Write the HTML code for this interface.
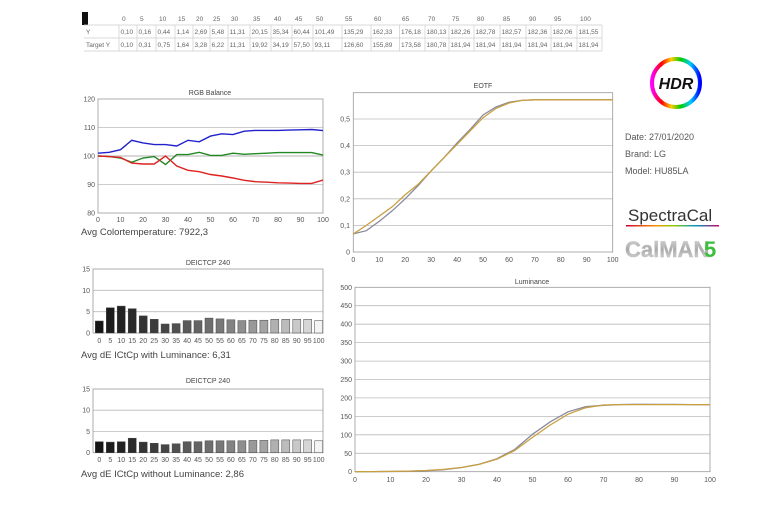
<!DOCTYPE html>
<html><head><meta charset="utf-8"><style>
html,body{margin:0;padding:0;background:#fff;}
svg{display:block;font-family:"Liberation Sans",sans-serif;}
.t{font-size:6.5px;fill:#666;}
.tk{font-size:7px;fill:#555;}
.ttl{font-size:7px;fill:#444;}
.big{font-size:9.5px;fill:#444;}
.g{stroke:#bbb;stroke-width:0.8;}
.ax{stroke:#999;stroke-width:0.8;fill:none;}
.bar{stroke:#444;stroke-width:0.5;}
</style></head><body>
<svg width="770" height="512" viewBox="0 0 770 512" xmlns="http://www.w3.org/2000/svg">
<defs>
<linearGradient id="rb" x1="0" x2="1" y1="0" y2="0">
<stop offset="0" stop-color="#f0f"/><stop offset="0.2" stop-color="#f00"/><stop offset="0.4" stop-color="#fc0"/><stop offset="0.6" stop-color="#0c0"/><stop offset="0.8" stop-color="#0cf"/><stop offset="1" stop-color="#00f"/>
</linearGradient>
<linearGradient id="rbl" x1="0" x2="1"><stop offset="0" stop-color="#c03"/><stop offset="0.3" stop-color="#f80"/><stop offset="0.5" stop-color="#9c0"/><stop offset="0.75" stop-color="#09c"/><stop offset="1" stop-color="#c06"/></linearGradient>
<linearGradient id="cal" x1="0" y1="0" x2="0" y2="1"><stop offset="0" stop-color="#ddd"/><stop offset="0.5" stop-color="#aaa"/><stop offset="1" stop-color="#e0e0e0"/></linearGradient>
</defs>

<!-- table -->
<rect x="82" y="12" width="6" height="13" fill="#111"/>
<g class="t">
<text x="122" y="21">0</text><text x="140" y="21">5</text><text x="159" y="21">10</text><text x="178" y="21">15</text><text x="196" y="21">20</text><text x="213" y="21">25</text><text x="231" y="21">30</text><text x="253" y="21">35</text><text x="274" y="21">40</text><text x="295" y="21">45</text><text x="316" y="21">50</text><text x="345" y="21">55</text><text x="374" y="21">60</text><text x="402" y="21">65</text><text x="428" y="21">70</text><text x="452" y="21">75</text><text x="477" y="21">80</text><text x="503" y="21">85</text><text x="529" y="21">90</text><text x="554" y="21">95</text><text x="580" y="21">100</text>
<text x="86" y="34">Y</text>
<text x="120.5" y="34">0,10</text><text x="138.5" y="34">0,16</text><text x="157.5" y="34">0,44</text><text x="176.5" y="34">1,14</text><text x="194.5" y="34">2,69</text><text x="211.5" y="34">5,48</text><text x="229.5" y="34">11,31</text><text x="251.5" y="34">20,15</text><text x="272.5" y="34">35,34</text><text x="293.5" y="34">60,44</text><text x="314.5" y="34">101,49</text><text x="343.5" y="34">135,29</text><text x="372.5" y="34">162,33</text><text x="401" y="34">176,18</text><text x="426.5" y="34">180,13</text><text x="450.5" y="34">182,26</text><text x="475.5" y="34">182,78</text><text x="501.5" y="34">182,57</text><text x="527.5" y="34">182,36</text><text x="552.5" y="34">182,06</text><text x="578.5" y="34">181,55</text>
<text x="86" y="47">Target Y</text>
<text x="120.5" y="47">0,10</text><text x="138.5" y="47">0,31</text><text x="157.5" y="47">0,75</text><text x="176.5" y="47">1,64</text><text x="194.5" y="47">3,28</text><text x="211.5" y="47">6,22</text><text x="229.5" y="47">11,31</text><text x="251.5" y="47">19,92</text><text x="272.5" y="47">34,19</text><text x="293.5" y="47">57,50</text><text x="314.5" y="47">93,11</text><text x="343.5" y="47">126,60</text><text x="372.5" y="47">155,89</text><text x="401" y="47">173,58</text><text x="426.5" y="47">180,78</text><text x="450.5" y="47">181,94</text><text x="475.5" y="47">181,94</text><text x="501.5" y="47">181,94</text><text x="527.5" y="47">181,94</text><text x="552.5" y="47">181,94</text><text x="578.5" y="47">181,94</text>
</g>
<g stroke="#ccc" stroke-width="0.7">
<line x1="84" y1="25" x2="602" y2="25"/><line x1="84" y1="38" x2="602" y2="38"/><line x1="84" y1="51" x2="602" y2="51"/>
<path d="M119 25V51M137 25V51M156 25V51M175 25V51M193 25V51M210 25V51M228 25V51M250 25V51M271 25V51M292 25V51M313 25V51M342 25V51M371 25V51M399.5 25V51M425 25V51M449 25V51M474 25V51M500 25V51M526 25V51M551 25V51M577 25V51M602 25V51"/>
</g>

<!-- RGB Balance -->
<text class="ttl" x="210" y="95" text-anchor="middle">RGB Balance</text>
<line class="g" x1="98" y1="127.5" x2="323" y2="127.5"/>
<line x1="98" y1="156" x2="323" y2="156" stroke="#ccc" stroke-width="1.6"/>
<line class="g" x1="98" y1="184.5" x2="323" y2="184.5"/>
<rect class="ax" x="98" y="99" width="225" height="114"/>
<g class="tk" text-anchor="end"><text x="95" y="101.5">120</text><text x="95" y="130">110</text><text x="95" y="158.5">100</text><text x="95" y="187">90</text><text x="95" y="215.5">80</text></g>
<g class="tk" text-anchor="middle"><text x="98" y="222">0</text><text x="120.5" y="222">10</text><text x="143" y="222">20</text><text x="165.5" y="222">30</text><text x="188" y="222">40</text><text x="210.5" y="222">50</text><text x="233" y="222">60</text><text x="255.5" y="222">70</text><text x="278" y="222">80</text><text x="300.5" y="222">90</text><text x="323" y="222">100</text></g>
<polyline fill="none" stroke="#2222cc" stroke-width="1.4" points="98,153.2 109.25,152.3 120.5,149.7 131.75,140.3 143,142.9 154.25,144.6 165.5,144.6 176.75,146 188,140.3 199.25,141.8 210.5,136.1 221.75,133.8 233,134.6 244.25,131.2 255.5,130.4 266.75,130.4 278,130.4 289.25,130.1 300.5,129.8 311.75,129.5 323,130.6"/>
<polyline fill="none" stroke="#228822" stroke-width="1.4" points="98,156 109.25,156.6 120.5,158 131.75,162.3 143,158 154.25,156.6 165.5,164.5 176.75,154.6 188,154.6 199.25,152.3 210.5,155.4 221.75,155.4 233,153.2 244.25,154.3 255.5,153.7 266.75,153.2 278,152.6 289.25,152.6 300.5,152.6 311.75,152.6 323,155.1"/>
<polyline fill="none" stroke="#dd2222" stroke-width="1.4" points="98,156 109.25,156.6 120.5,157.4 131.75,163.1 143,164 154.25,164 165.5,156 176.75,166 188,170.3 199.25,171.7 210.5,174.5 221.75,176 233,178 244.25,180.3 255.5,181.7 266.75,182.2 278,182.8 289.25,183.1 300.5,183.4 311.75,183.4 323,180.1"/>
<text class="big" x="81" y="235">Avg Colortemperature: 7922,3</text>

<!-- DE chart 1 -->
<text class="ttl" x="208" y="265" text-anchor="middle">DEICTCP 240</text>
<line class="g" x1="93" y1="290.3" x2="323" y2="290.3"/><line class="g" x1="93" y1="311.7" x2="323" y2="311.7"/>
<rect class="ax" x="93" y="269" width="230" height="64"/>
<g class="tk" text-anchor="end"><text x="90" y="271.5">15</text><text x="90" y="293">10</text><text x="90" y="314">5</text><text x="90" y="335.5">0</text></g>
<g class="bar">
<rect x="95.3" y="321" width="8" height="12" fill="#151515"/><rect x="106.3" y="307.8" width="8" height="25.2" fill="#1c1c1c"/><rect x="117.2" y="306.1" width="8" height="26.9" fill="#222"/><rect x="128.2" y="308.7" width="8" height="24.3" fill="#2a2a2a"/><rect x="139.2" y="315.9" width="8" height="17.1" fill="#333"/><rect x="150.2" y="319.3" width="8" height="13.7" fill="#3c3c3c"/><rect x="161.1" y="324" width="8" height="9" fill="#464646"/><rect x="172.1" y="323.6" width="8" height="9.4" fill="#505050"/><rect x="183.1" y="320.6" width="8" height="12.4" fill="#5a5a5a"/><rect x="194" y="320.6" width="8" height="12.4" fill="#646464"/><rect x="205" y="318.1" width="8" height="14.9" fill="#6e6e6e"/><rect x="216" y="318.9" width="8" height="14.1" fill="#787878"/><rect x="226.9" y="319.8" width="8" height="13.2" fill="#838383"/><rect x="237.9" y="320.6" width="8" height="12.4" fill="#8e8e8e"/><rect x="248.9" y="320.2" width="8" height="12.8" fill="#999"/><rect x="259.9" y="320.2" width="8" height="12.8" fill="#a4a4a4"/><rect x="270.8" y="319.3" width="8" height="13.7" fill="#b0b0b0"/><rect x="281.8" y="319.3" width="8" height="13.7" fill="#bcbcbc"/><rect x="292.8" y="319.3" width="8" height="13.7" fill="#c8c8c8"/><rect x="303.7" y="319.3" width="8" height="13.7" fill="#d6d6d6"/><rect x="314.7" y="320.6" width="8" height="12.4" fill="#f4f4f4"/>
</g>
<g class="tk" text-anchor="middle"><text x="99.3" y="343">0</text><text x="110.3" y="343">5</text><text x="121.2" y="343">10</text><text x="132.2" y="343">15</text><text x="143.2" y="343">20</text><text x="154.2" y="343">25</text><text x="165.1" y="343">30</text><text x="176.1" y="343">35</text><text x="187.1" y="343">40</text><text x="198" y="343">45</text><text x="209" y="343">50</text><text x="220" y="343">55</text><text x="230.9" y="343">60</text><text x="241.9" y="343">65</text><text x="252.9" y="343">70</text><text x="263.9" y="343">75</text><text x="274.8" y="343">80</text><text x="285.8" y="343">85</text><text x="296.8" y="343">90</text><text x="307.7" y="343">95</text><text x="318.7" y="343">100</text></g>
<text class="big" x="81" y="358">Avg dE ICtCp with Luminance: 6,31</text>

<!-- DE chart 2 -->
<text class="ttl" x="208" y="383" text-anchor="middle">DEICTCP 240</text>
<line class="g" x1="93" y1="410.2" x2="323" y2="410.2"/><line class="g" x1="93" y1="431.5" x2="323" y2="431.5"/>
<rect class="ax" x="93" y="389" width="230" height="63.7"/>
<g class="tk" text-anchor="end"><text x="90" y="391.5">15</text><text x="90" y="412.7">10</text><text x="90" y="434">5</text><text x="90" y="455.2">0</text></g>
<g class="bar">
<rect x="95.3" y="441.7" width="8" height="11" fill="#151515"/><rect x="106.3" y="442.1" width="8" height="10.6" fill="#1c1c1c"/><rect x="117.2" y="441.7" width="8" height="11" fill="#222"/><rect x="128.2" y="438.2" width="8" height="14.5" fill="#2a2a2a"/><rect x="139.2" y="442.1" width="8" height="10.6" fill="#333"/><rect x="150.2" y="443.3" width="8" height="9.4" fill="#3c3c3c"/><rect x="161.1" y="444.6" width="8" height="8.1" fill="#464646"/><rect x="172.1" y="443.8" width="8" height="8.9" fill="#505050"/><rect x="183.1" y="441.7" width="8" height="11" fill="#5a5a5a"/><rect x="194" y="441.7" width="8" height="11" fill="#646464"/><rect x="205" y="440.8" width="8" height="11.9" fill="#6e6e6e"/><rect x="216" y="440.8" width="8" height="11.9" fill="#787878"/><rect x="226.9" y="440.8" width="8" height="11.9" fill="#838383"/><rect x="237.9" y="440.8" width="8" height="11.9" fill="#8e8e8e"/><rect x="248.9" y="440.4" width="8" height="12.3" fill="#999"/><rect x="259.9" y="440.4" width="8" height="12.3" fill="#a4a4a4"/><rect x="270.8" y="439.9" width="8" height="12.8" fill="#b0b0b0"/><rect x="281.8" y="439.9" width="8" height="12.8" fill="#bcbcbc"/><rect x="292.8" y="439.9" width="8" height="12.8" fill="#c8c8c8"/><rect x="303.7" y="439.9" width="8" height="12.8" fill="#d6d6d6"/><rect x="314.7" y="440.8" width="8" height="11.9" fill="#f4f4f4"/>
</g>
<g class="tk" text-anchor="middle"><text x="99.3" y="462">0</text><text x="110.3" y="462">5</text><text x="121.2" y="462">10</text><text x="132.2" y="462">15</text><text x="143.2" y="462">20</text><text x="154.2" y="462">25</text><text x="165.1" y="462">30</text><text x="176.1" y="462">35</text><text x="187.1" y="462">40</text><text x="198" y="462">45</text><text x="209" y="462">50</text><text x="220" y="462">55</text><text x="230.9" y="462">60</text><text x="241.9" y="462">65</text><text x="252.9" y="462">70</text><text x="263.9" y="462">75</text><text x="274.8" y="462">80</text><text x="285.8" y="462">85</text><text x="296.8" y="462">90</text><text x="307.7" y="462">95</text><text x="318.7" y="462">100</text></g>
<text class="big" x="81" y="477">Avg dE ICtCp without Luminance: 2,86</text>

<!-- EOTF -->
<text class="ttl" x="483" y="88" text-anchor="middle">EOTF</text>
<g class="g"><line x1="353.3" y1="225.4" x2="612.7" y2="225.4"/><line x1="353.3" y1="198.8" x2="612.7" y2="198.8"/><line x1="353.3" y1="172.2" x2="612.7" y2="172.2"/><line x1="353.3" y1="145.6" x2="612.7" y2="145.6"/><line x1="353.3" y1="119" x2="612.7" y2="119"/></g>
<rect class="ax" x="353.3" y="92.7" width="259.4" height="159.3"/>
<g class="tk" text-anchor="end"><text x="350" y="254.5">0</text><text x="350" y="228">0,1</text><text x="350" y="201.3">0,2</text><text x="350" y="174.7">0,3</text><text x="350" y="148">0,4</text><text x="350" y="121.5">0,5</text></g>
<g class="tk" text-anchor="middle"><text x="353.3" y="262">0</text><text x="379.2" y="262">10</text><text x="405.2" y="262">20</text><text x="431.1" y="262">30</text><text x="457.1" y="262">40</text><text x="483" y="262">50</text><text x="509" y="262">60</text><text x="534.9" y="262">70</text><text x="560.8" y="262">80</text><text x="586.8" y="262">90</text><text x="612.7" y="262">100</text></g>
<polyline fill="none" stroke="#8a8a9e" stroke-width="1.3" points="353.3,233.9 366.3,230.7 379.2,221.4 392.2,210.8 405.2,198.8 418.2,185.5 431.1,170.9 444.1,157.6 457.1,142.9 470,129.6 483,115 496,107 509,102.2 521.9,100.4 534.9,99.8 612.7,99.8"/>
<polyline fill="none" stroke="#c9a040" stroke-width="1.3" points="353.3,233.9 366.3,225.4 379.2,216.1 392.2,206.8 405.2,194.8 418.2,184.2 431.1,170.9 444.1,157.6 457.1,144.3 470,131 483,117.7 496,108.4 509,103 521.9,100.4 534.9,99.8 612.7,99.8"/>

<!-- Luminance -->
<text class="ttl" x="532" y="284" text-anchor="middle">Luminance</text>
<g class="g"><line x1="355" y1="305.7" x2="710" y2="305.7"/><line x1="355" y1="324.2" x2="710" y2="324.2"/><line x1="355" y1="342.6" x2="710" y2="342.6"/><line x1="355" y1="361.1" x2="710" y2="361.1"/><line x1="355" y1="379.5" x2="710" y2="379.5"/><line x1="355" y1="397.9" x2="710" y2="397.9"/><line x1="355" y1="416.4" x2="710" y2="416.4"/><line x1="355" y1="434.8" x2="710" y2="434.8"/><line x1="355" y1="453.3" x2="710" y2="453.3"/></g>
<rect class="ax" x="355" y="287.3" width="355" height="184.4"/>
<g class="tk" text-anchor="end"><text x="352" y="289.8">500</text><text x="352" y="308.2">450</text><text x="352" y="326.7">400</text><text x="352" y="345.1">350</text><text x="352" y="363.6">300</text><text x="352" y="382">250</text><text x="352" y="400.4">200</text><text x="352" y="418.9">150</text><text x="352" y="437.3">100</text><text x="352" y="455.8">50</text><text x="352" y="474.2">0</text></g>
<g class="tk" text-anchor="middle"><text x="355" y="482">0</text><text x="390.5" y="482">10</text><text x="426" y="482">20</text><text x="461.5" y="482">30</text><text x="497" y="482">40</text><text x="532.5" y="482">50</text><text x="568" y="482">60</text><text x="603.5" y="482">70</text><text x="639" y="482">80</text><text x="674.5" y="482">90</text><text x="710" y="482">100</text></g>
<polyline fill="none" stroke="#8a8a9e" stroke-width="1.3" points="355,471.7 372.75,471.6 390.5,471.5 408.25,471.3 426,470.7 443.75,469.7 461.5,467.5 479.25,464.3 497,458.7 514.75,449.4 532.5,434.3 550.25,421.8 568,411.8 585.75,406.7 603.5,405.3 621.25,404.5 639,404.3 656.75,404.4 674.5,404.4 692.25,404.6 710,404.7"/>
<polyline fill="none" stroke="#c9a040" stroke-width="1.3" points="355,471.7 372.75,471.6 390.5,471.4 408.25,471.1 426,470.5 443.75,469.4 461.5,467.5 479.25,464.4 497,459.1 514.75,450.5 532.5,437.4 550.25,425 568,414.2 585.75,407.7 603.5,405 621.25,404.6 710,404.6"/>

<!-- HDR logo -->
<circle cx="676" cy="83" r="24" fill="none" stroke="url(#rb)" stroke-width="4"/>
<text x="676" y="89" text-anchor="middle" font-size="16" font-weight="bold" font-style="italic" fill="#111">HDR</text>
<g font-size="9" fill="#555"><text x="625" y="140">Date: 27/01/2020</text><text x="625" y="157">Brand: LG</text><text x="625" y="174">Model: HU85LA</text></g>
<text x="628" y="221" font-size="17" fill="#333">SpectraCal</text>
<rect x="626" y="225" width="93" height="1.5" fill="url(#rbl)"/>
<text x="625" y="257" font-size="22" font-weight="bold" fill="url(#cal)" stroke="#bbb" stroke-width="0.4">CalMAN</text>
<text x="704" y="257" font-size="22" font-weight="bold" fill="#3bbf3b">5</text>
</svg>
</body></html>
